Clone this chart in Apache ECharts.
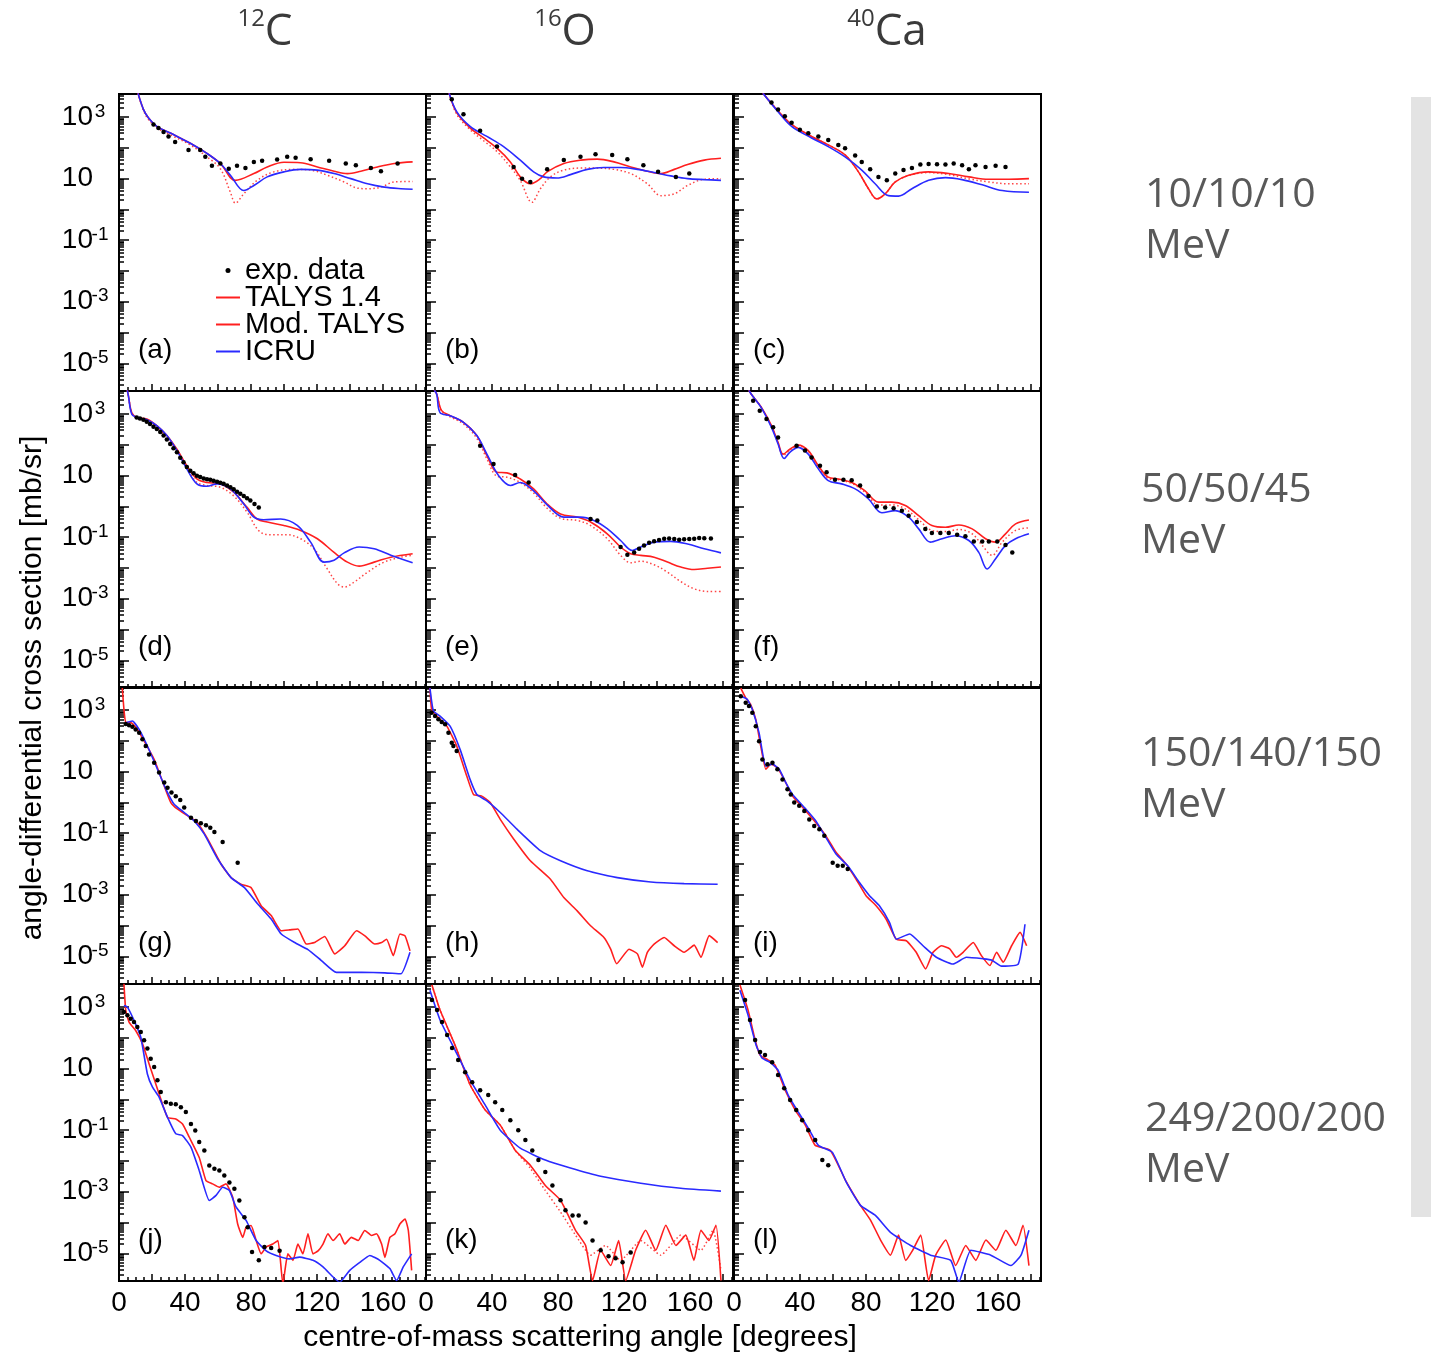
<!DOCTYPE html>
<html>
<head>
<meta charset="utf-8">
<script src="https://cdn.jsdelivr.net/npm/echarts@6/dist/echarts.min.js"></script>
<style>
  html, body { margin: 0; padding: 0; background: #fff; }
  #chart { width: 1431px; height: 1355px; }
</style>
</head>
<body>
<div id="chart"></div>
<script>
// Elastic angular distributions: [centre-of-mass angle (deg), dσ/dΩ (mb/sr)]

// ---- (a) 12C, 10 MeV ----
const expA = [[20.9,575],[23.9,445],[27,330],[30,235],[34,154],[42.1,86],[49.2,86],[52.3,51],[56.3,26],[61.4,31],[66.5,21],[71.5,26],[76.6,22],[81.7,35],[86.7,38],[95.8,42],[101.9,51],[107,48],[116.1,43],[127.3,38],[137.4,31],[143.5,27],[152.6,22],[158.7,17.4],[168.8,31]];
const talysA = [[11.5,6000],[14.8,1780],[17.8,950],[22.9,500],[33,270],[43.2,141],[53.3,66],[61.4,31],[70.5,8.8],[81.7,14.6],[89.8,24],[99.9,34],[110,33],[120.2,24],[130.3,17.4],[138.4,14.6],[146.5,17.4],[156.6,24],[166.8,31],[177.9,35]];
const modA = [[11.5,6000],[14.8,1650],[17.8,840],[22.9,450],[33,235],[43.2,125],[53.3,51],[61.4,21],[67.5,3.6],[70.5,1.6],[75.6,3.2],[83.7,8.8],[93.8,16.6],[106,20],[116.1,19],[126.2,12.9],[136.4,7.8],[144.5,4.9],[150.6,4.7],[158.7,5.3],[166.8,7.8],[177.9,8.1]];
const icruA = [[11.5,6000],[14.8,1780],[17.8,950],[22.9,500],[33,270],[43.2,141],[53.3,66],[61.4,31],[67.5,12.9],[75.6,4.1],[81.7,6.0],[89.8,11.4],[99.9,16.6],[110,20],[120.2,18.9],[130.3,14.6],[140.4,10],[150.6,6.8],[160.7,5.3],[170.8,4.7],[177.9,4.5]];

// ---- (b) 16O, 10 MeV ----
const expB = [[15.6,3800],[22.7,1230],[32.8,360],[43,110],[53.1,24],[58.2,10],[63.2,7.8],[73.4,20],[83.5,40],[93.6,51],[102.7,62],[112.8,59],[122,43],[131.7,27],[140.6,16.6],[151.4,11.4],[159.5,14.6]];
const talysB = [[14,6000],[18.6,1390],[26.7,445],[34.9,210],[43,98],[51.1,35],[57.1,11.4],[63.2,6.8],[69.3,10],[73.4,16.6],[83.5,31],[93.8,40],[103.8,43],[113.9,35],[124,24],[134.1,17.4],[142.3,14.6],[150.4,20],[158.5,29],[168.6,40],[178.7,46]];
const modB = [[14,6000],[18.6,1230],[26.7,390],[34.9,170],[43,76],[51.1,24],[57.1,8.8],[64.2,1.7],[69.3,4.7],[75.4,11.4],[83.5,19],[93.6,22],[103.8,22],[113.9,20],[124,14.6],[134.1,6.8],[142.3,2.8],[150.4,3.2],[158.5,6.0],[168.6,9.6],[178.7,10]];
const icruB = [[14,6000],[18.6,1500],[26.7,500],[36.9,235],[47,110],[57.1,40],[65.2,16.6],[71.3,11.4],[79.4,10.5],[87.5,13.5],[97.7,20],[107.8,23],[117.9,23],[128.1,20],[138.2,15.8],[148.3,12.3],[158.5,10],[168.6,9.3],[178.7,8.8]];

// ---- (c) 40Ca, 10 MeV ----
const expC = [[22.7,2950],[26.7,1780],[30.8,1070],[34.9,650],[39.9,390],[45,300],[51.1,235],[57.1,180],[63.2,125],[67.3,98],[73.4,56],[77.4,35],[82.5,20],[87.5,11.4],[92.6,8.8],[97.7,14.6],[102.7,19],[107.8,22],[112.9,29],[117.9,30],[123,29.5],[128.1,29],[133.1,31],[138.2,27],[142.3,20],[146.3,27],[152.4,24],[158.5,26],[164.5,24]];
const talysC = [[17.5,6000],[26.7,1580],[34.9,575],[47,235],[57.1,125],[67.3,59],[75.4,16.6],[81.5,4.7],[86.5,2.2],[91.6,3.2],[97.7,7.8],[105.8,12.9],[117.9,16.6],[130.1,14.6],[142.3,11.4],[154.4,9.6],[166.6,9.6],[178.7,10]];
const modC = [[17.5,6000],[26.7,1580],[34.9,575],[47,235],[57.1,125],[67.3,59],[75.4,16.6],[81.5,4.7],[86.5,2.2],[91.6,3.2],[97.7,7.8],[105.8,12.6],[117.9,15.8],[130.1,13.5],[142.3,9.8],[154.4,7.8],[166.6,6.8],[178.7,6.8]];
const icruC = [[17.5,6000],[26.7,1500],[34.9,500],[47,210],[57.1,110],[67.3,51],[77.4,19],[85.5,6.8],[93.6,2.8],[99.7,2.7],[107.8,4.7],[117.9,8.8],[128.1,10.8],[138.2,9.3],[150.4,6.3],[162.5,4.1],[178.7,3.6]];

// ---- (d) 12C, 50 MeV ----
const expD = [[10.7,780],[12.7,720],[14.8,660],[16.8,560],[18.8,475],[20.9,390],[22.9,325],[25,260],[27,200],[29,150],[31,107],[33,78],[35.1,57],[37.1,38],[39.1,27],[41.1,19],[43.2,14.5],[45.2,12],[47.2,10],[49.2,9],[51.3,8.1],[53.3,7.7],[55.3,7.4],[57.3,6.8],[59.4,6.3],[61.4,5.9],[63.4,5.4],[65.5,4.8],[67.5,4.2],[69.5,3.6],[71.5,3.0],[73.5,2.6],[75.6,2.2],[77.6,1.85],[79.6,1.55],[82.1,1.2],[84.7,0.93]];
const talysD = [[5,6000],[5.7,3900],[7.7,1120],[10.7,780],[16.8,690],[22.9,420],[29,200],[35.1,72],[41.1,21],[47.2,7.8],[53.3,6.0],[61.4,5.4],[69.5,2.9],[77.6,0.93],[83.7,0.39],[89.8,0.31],[99.9,0.24],[110,0.166],[120.2,0.089],[130.3,0.032],[138.4,0.0155],[145.5,0.0115],[154.6,0.0155],[164.7,0.0224],[177.9,0.029]];
const modD = [[5,6000],[5.7,3900],[7.7,1080],[10.7,740],[16.8,600],[22.9,370],[29,174],[35.1,65],[41.1,18.6],[47.2,6.0],[53.3,4.8],[61.4,4.2],[69.5,2.2],[77.6,0.65],[85.7,0.145],[93.8,0.12],[101.9,0.12],[110,0.089],[118.1,0.042],[126.2,0.0093],[132.3,0.0031],[136.4,0.0024],[142.5,0.0035],[150.6,0.0073],[160.7,0.0155],[170.8,0.0224],[177.9,0.026]];
const icruD = [[5,6000],[5.7,3900],[7.7,1000],[10.7,780],[16.8,660],[22.9,420],[29,200],[35.1,65],[41.1,16.6],[47.2,5.4],[53.3,4.5],[59.4,5.4],[67.5,3.7],[75.6,1.2],[81.7,0.45],[87.7,0.37],[97.9,0.39],[108,0.24],[116.1,0.069],[124.2,0.0155],[130.3,0.0178],[136.4,0.031],[145.5,0.048],[154.6,0.042],[164.7,0.026],[177.9,0.0148]];

// ---- (e) 16O, 50 MeV ----
const expE = [[32.8,93],[40.9,24],[54,10.5],[62.2,6.0],[99.7,0.39],[103.8,0.35],[117.9,0.048],[122,0.027],[126.1,0.032],[129.1,0.042],[132.1,0.054],[135.2,0.066],[138.2,0.074],[141.2,0.081],[144.3,0.089],[147.3,0.09],[150.4,0.088],[153.4,0.083],[156.4,0.085],[159.5,0.087],[162.5,0.089],[165.5,0.094],[168.6,0.093],[172.6,0.09]];
const talysE = [[5,6000],[6.5,4400],[9.5,1290],[14.6,890],[22.7,540],[30.8,200],[36.9,45],[43,12.9],[49,12.3],[57.1,7.8],[65.2,3.7],[73.4,1.2],[81.5,0.57],[91.6,0.45],[99.7,0.31],[109.8,0.129],[117.9,0.048],[124,0.029],[130.1,0.0257],[138.2,0.0224],[146.3,0.0155],[154.4,0.0107],[162.5,0.0089],[170.6,0.0098],[178.7,0.0107]];
const modE = [[5,6000],[6.5,4400],[9.5,1200],[14.6,820],[22.7,475],[30.8,163],[36.9,35],[43,9.6],[49,8.9],[57.1,6.0],[65.2,2.75],[73.4,0.87],[81.5,0.41],[91.6,0.35],[99.7,0.24],[109.8,0.089],[117.9,0.0257],[124,0.0148],[130.1,0.0165],[138.2,0.0127],[146.3,0.0073],[154.4,0.0036],[162.5,0.0021],[170.6,0.00173],[178.7,0.00173]];
const icruE = [[5,6000],[6.5,4400],[8.5,1120],[14.6,890],[22.7,540],[30.8,200],[36.9,50],[44,10],[51.1,4.8],[57.1,6.0],[65.2,3.2],[73.4,1.12],[83.5,0.45],[93.6,0.45],[101.7,0.35],[109.8,0.19],[117.9,0.078],[125,0.037],[130.1,0.048],[138.2,0.069],[148.3,0.073],[158.5,0.060],[168.6,0.042],[178.7,0.031]];

// ---- (f) 40Ca, 45 MeV ----
const expF = [[11.6,2700],[15.6,1290],[19.7,690],[23.7,370],[26.7,174],[37.9,93],[43,65],[47,39],[52.1,21],[56.1,12.9],[61.2,7.4],[66.3,7.4],[71.3,7.1],[76.4,4.8],[81.5,2.2],[86.5,1.0],[91.6,0.93],[96.7,0.87],[101.7,0.72],[105.8,0.50],[110.8,0.31],[115.9,0.186],[119.9,0.138],[125,0.138],[130.1,0.138],[135.2,0.12],[140.2,0.107],[145.3,0.072],[150.4,0.072],[154.4,0.072],[159.5,0.072],[164.5,0.056],[168.6,0.032]];
const talysF = [[9,6000],[10.5,4400],[16.6,1650],[22.7,420],[26.7,120],[29.8,50],[33.8,72],[38.9,98],[45,65],[51.1,21],[57.1,8.9],[63.2,7.8],[71.3,6.0],[79.4,3.2],[87.5,1.38],[95.6,1.38],[103.8,1.07],[111.9,0.50],[119.9,0.24],[128.1,0.21],[136.2,0.25],[144.3,0.186],[152.4,0.089],[158.5,0.069],[164.5,0.129],[170.6,0.27],[178.7,0.36]];
const modF = [[9,6000],[10.5,4400],[16.6,1620],[22.7,400],[26.7,112],[29.8,45],[33.8,68],[38.9,93],[45,60],[51.1,18.6],[57.1,8.1],[63.2,7.4],[71.3,5.6],[79.4,2.9],[87.5,1.12],[95.6,1.12],[103.8,0.83],[111.9,0.37],[119.9,0.166],[128.1,0.152],[136.2,0.178],[144.3,0.129],[150.4,0.054],[156.4,0.0257],[162.5,0.069],[170.6,0.166],[178.7,0.2]];
const icruF = [[9,6000],[10.5,4400],[16.6,1600],[22.7,370],[26.7,107],[30.4,36],[33.8,57],[38.9,83],[45,50],[51.1,16.6],[57.1,6.9],[65.2,5.4],[73.4,3.7],[81.5,1.74],[89.6,0.62],[97.7,0.73],[105.8,0.45],[111.9,0.186],[119,0.069],[126.1,0.089],[134.1,0.112],[142.3,0.078],[148.3,0.032],[153.4,0.0093],[158.5,0.02],[164.5,0.054],[170.6,0.089],[178.7,0.129]];

// ---- (g) 12C, 150 MeV ----
const expG = [[4.1,350],[6.1,320],[8.1,290],[10.1,235],[12.2,182],[14.2,112],[16.2,68],[18.2,36],[21.3,19.5],[24.3,9.3],[27.4,4.4],[29.4,3.0],[31.8,2.1],[34.4,1.6],[37.1,1.2],[39.5,0.68],[43.6,0.32],[46.6,0.25],[49.6,0.21],[52.7,0.18],[55.3,0.15],[57.8,0.11],[62.8,0.052],[71.9,0.011]];
const talysG = [[2,5200],[3,1050],[4.1,390],[7.1,390],[11.1,235],[15.2,100],[21.3,25],[27.4,3.4],[31.4,0.99],[35.5,0.60],[41.5,0.37],[47.6,0.22],[53.7,0.065],[61.8,0.010],[67.9,0.0036],[73.9,0.0022],[80,0.0017],[86.1,0.00044],[92.2,0.00021],[98.3,6.8e-5],[103.3,7.2e-5],[108.4,7.7e-5],[113.5,2.5e-5],[118.5,2.8e-5],[124.6,4.4e-5],[130.7,1.2e-5],[136.8,2.2e-5],[143.9,6.8e-5],[149,4.6e-5],[155,2.5e-5],[159.1,2.8e-5],[162.1,3.6e-5],[166.2,1.05e-5],[170.2,5.3e-5],[173.3,4.6e-5],[176.3,1.5e-5]];
const icruG = [[4.1,390],[8.1,440],[12.2,235],[17.2,68],[23.3,12],[28.4,2.7],[33.4,0.87],[39.5,0.47],[45.6,0.25],[51.7,0.093],[59.8,0.0145],[67.9,0.0036],[76,0.0017],[84.1,0.0005],[92.2,0.000162],[98.3,5.3e-5],[106.4,2.8e-5],[114.5,1.65e-5],[122.6,7.3e-6],[131.7,3.0e-6],[146.9,3.0e-6],[161.1,2.9e-6],[170.8,2.7e-6],[176.3,1.35e-5]];

// ---- (h) 16O, 140 MeV ----
const expH = [[3.4,820],[5.5,640],[7.5,500],[9.5,410],[11.6,345],[13.6,183],[15.6,87],[16.6,68],[18.6,47]];
const talysH = [[2.4,5200],[3.4,1050],[6.5,640],[12.6,300],[18.6,68],[24.7,7.2],[28.8,1.8],[33.8,1.6],[38.9,0.99],[45,0.28],[53.1,0.065],[63.2,0.0127],[75.4,0.0032],[83.5,0.00081],[91.6,0.0003],[99.7,9.8e-5],[107.8,4.1e-5],[111.9,1.7e-5],[115.5,5.7e-6],[123,1.7e-5],[128.1,1.2e-5],[131.1,4.4e-6],[134.1,1.35e-5],[138.2,2.5e-5],[144.3,4.1e-5],[150.4,2.2e-5],[156.4,1.35e-5],[162.5,2.3e-5],[166.6,9.3e-6],[171.6,4.7e-5],[176.7,2.8e-5]];
const icruH = [[2.4,5200],[4.5,930],[8.5,640],[14.6,300],[20.7,52],[26.7,5.6],[30.8,1.8],[36.9,1.12],[45,0.47],[55.1,0.135],[69.3,0.027],[81.5,0.0127],[97.7,0.006],[115.9,0.0036],[136.2,0.0026],[156.4,0.0023],[176.7,0.0022]];

// ---- (i) 40Ca, 150 MeV ----
const expI = [[4.1,2800],[7.1,1740],[9.1,1350],[11.1,820],[13.2,300],[15.2,98],[17.2,25],[20.3,17.5],[23.3,19.5],[26.3,12],[29.4,5.6],[32.4,2.7],[34.4,1.8],[36.5,0.99],[39.5,0.78],[42.6,0.53],[45.6,0.28],[48.6,0.17],[51.7,0.135],[54.7,0.082],[59.8,0.011],[62.8,0.0087],[65.9,0.0087],[68.9,0.0068]];
const talysI = [[4.1,5200],[7.1,2500],[10.1,1520],[13.2,500],[16.2,68],[19.3,12],[22.3,17.5],[26.3,13.5],[30.4,5.6],[35.5,1.6],[43.6,0.52],[49.6,0.22],[55.7,0.082],[61.8,0.024],[67.9,0.010],[74,0.0032],[80,0.00093],[86.1,0.00044],[92.2,0.00016],[98.3,3.6e-5],[104.4,3.2e-5],[110.4,1.35e-5],[116.1,3.9e-6],[120.6,1.35e-5],[125.6,2.2e-5],[130.7,1.75e-5],[134.7,9.3e-6],[138.8,1.35e-5],[144.9,2.8e-5],[149.9,1.05e-5],[155,5e-6],[159.1,1.35e-5],[163.1,6.4e-6],[168.2,2.2e-5],[173.3,6e-5],[177.3,2.2e-5]];
const icruI = [[4.1,2850],[8.1,2200],[11.1,1050],[15.2,182],[19.3,15],[23.3,17.5],[27.4,12],[31.4,4.4],[35.5,1.8],[43.6,0.60],[49.6,0.25],[55.7,0.072],[61.8,0.021],[68.9,0.0087],[76,0.0025],[82.1,0.00093],[88.1,0.00044],[94.2,0.000126],[98.3,3.6e-5],[106.4,5.3e-5],[114.5,2.2e-5],[122.6,9.3e-6],[132.7,5.6e-6],[140.8,9.3e-6],[151,8.3e-6],[156,7.6e-6],[162.1,4.8e-6],[172.2,5.6e-6],[176.3,1.1e-4]];

// ---- (j) 12C, 249 MeV ----
const expJ = [[3,690],[5.1,540],[7.1,420],[9.1,325],[11.1,224],[13.2,155],[15.2,83],[17.2,45],[19.2,21],[21.3,11.2],[23.3,4.2],[25.3,1.74],[28.4,0.81],[31.4,0.72],[34.4,0.69],[37.5,0.56],[40.5,0.39],[43.6,0.16],[46.2,0.098],[48.6,0.041],[51.7,0.022],[54.7,0.0071],[57.8,0.0056],[60.8,0.0049],[63.8,0.0034],[66.9,0.002],[69.9,0.00125],[72.9,0.00052],[76,0.000149],[78,7e-5],[80.6,1.1e-5],[84.7,5.9e-6],[88.1,1.6e-5],[92.2,1.5e-5],[97.3,1.2e-5]];
const talysJ = [[3,5700],[4.1,780],[6.1,325],[10.1,174],[14.2,65],[18.2,14.5],[24.3,1.5],[29.4,0.26],[34.4,0.23],[38.5,0.16],[42.6,0.059],[48.6,0.013],[52.7,0.0023],[56.7,0.0018],[60.8,0.0014],[64.8,0.0018],[68.9,0.00066],[71.9,9e-5],[75,3.3e-5],[77,7e-5],[80,8e-5],[83.1,2.6e-5],[86.1,9.6e-6],[89.2,1.6e-5],[93.2,2e-5],[96.3,2.6e-5],[99.3,1e-6],[102.3,9.6e-6],[105.4,5.9e-6],[108.4,2e-5],[111.4,9.6e-6],[114.5,4.3e-5],[117.5,9.6e-6],[120.6,1.2e-5],[123.6,2e-5],[126.6,4.3e-5],[129.7,2.6e-5],[133.7,4.3e-5],[136.8,2e-5],[140.8,3.3e-5],[144.9,2.6e-5],[148.9,5.5e-5],[153,3.8e-5],[156,4.3e-5],[159.1,2e-5],[161.1,7.4e-6],[164.1,3.3e-5],[167.2,4.3e-5],[170.2,9e-5],[173.3,1.3e-4],[175.3,5.5e-5],[177.3,2.8e-6]];
const icruJ = [[3,1130],[5.1,1000],[9.1,370],[13.2,105],[17.2,6.7],[20.3,2.5],[24.3,1.19],[29.4,0.26],[34.4,0.076],[38.5,0.067],[43.6,0.028],[48.6,0.0049],[54.7,0.00052],[58.8,0.00076],[62.8,0.0014],[66.9,0.0011],[70.9,0.00032],[77,0.000117],[83.1,2.6e-5],[89.2,1.2e-5],[95.2,8.5e-6],[103.3,6.6e-6],[109.4,7.5e-6],[117.5,5.9e-6],[123.6,3.6e-6],[129.7,1.7e-6],[133.7,1.15e-6],[139.8,2.8e-6],[145.9,5.1e-6],[152,8.5e-6],[158,5.9e-6],[164.1,3.2e-6],[168.2,1.3e-6],[172.2,3.6e-6],[177.3,9.6e-6]];

// ---- (k) 16O, 200 MeV ----
const expK = [[3.6,1700],[6.7,800],[9.7,325],[12.8,123],[15.8,47],[19.5,19],[23.7,7.7],[28,3.6],[32.8,2.0],[37.7,1.38],[41.9,0.81],[46.2,0.45],[51.1,0.21],[55.9,0.1],[60.2,0.048],[64.4,0.022],[68.1,0.0107],[72.3,0.0044],[76.6,0.0016],[81.5,0.00053],[84.5,0.00025],[88.8,0.00017],[92.5,0.00017],[96.7,0.0001],[100.9,2.6e-5],[105.8,1.25e-5],[110.6,8e-6],[114.9,6.9e-6],[119.1,5.1e-6],[124,1.07e-5]];
const talysK = [[3.6,5200],[8.5,800],[17.6,58],[26.7,3.0],[35.9,0.45],[45,0.146],[54.1,0.022],[63.2,0.0073],[72.3,0.0016],[81.5,0.00053],[90.6,5.6e-5],[96.7,1.8e-5],[100.9,1.3e-6],[105.8,1.25e-5],[111.9,4e-6],[116.7,2.6e-5],[121,1.3e-6],[127,1.25e-5],[133.1,5.6e-5],[139.2,1.25e-5],[145.3,8.2e-5],[151.4,1.8e-5],[157.4,3.9e-5],[162.3,5.9e-6],[166.6,5.6e-5],[171.4,2.6e-5],[175.7,8.2e-5],[178.7,1.3e-6]];
const modK = [[3.6,5200],[8.5,800],[17.6,58],[26.7,3.0],[35.9,0.45],[45,0.146],[54.1,0.022],[63.2,0.0058],[72.3,0.0011],[81.5,0.00022],[90.6,3.9e-5],[99.7,8.7e-6],[108.8,1.8e-5],[117.9,5.9e-6],[130.1,2.6e-5],[142.3,8.7e-6],[154.4,3.9e-5],[166.6,1.25e-5],[173.9,5.6e-5],[178.7,2.8e-6]];
const icruK = [[2.4,3500],[8.5,380],[17.6,40],[26.7,4.3],[35.9,0.65],[45,0.1],[57.1,0.026],[72.3,0.0107],[87.5,0.0059],[105.8,0.0032],[130.1,0.0019],[154.4,0.0013],[178.7,0.00105]];

// ---- (l) 40Ca, 200 MeV ----
const expL = [[6.7,1700],[9.7,380],[12.8,85],[15.8,35],[18.8,27.5],[23.1,16],[26.7,6.2],[30.4,2.3],[34,0.95],[37.7,0.45],[41.3,0.21],[45,0.1],[49.2,0.048],[53.5,0.0107],[57.1,0.0073]];
const talysL = [[3.6,5200],[8.5,800],[12.8,85],[15.8,27.5],[20.7,19],[24.9,13],[31,2.0],[37.1,0.45],[43.2,0.146],[49.2,0.032],[58.4,0.022],[67.5,0.0024],[76.6,0.00036],[82.7,0.00012],[88.8,2.7e-5],[94.8,8.7e-6],[99.7,3.9e-5],[104,5.9e-6],[108.2,1.25e-5],[113.1,3.9e-5],[117.9,1.3e-6],[122.2,8.7e-6],[128.3,2.7e-5],[134.3,4e-6],[140.4,1.8e-5],[146.5,5.9e-6],[152.6,2.7e-5],[158.7,1.25e-5],[164.7,5.6e-5],[170.8,1.8e-5],[175.1,8.2e-5],[178.7,4e-6]];
const icruL = [[3.6,3500],[8.5,550],[13.4,58],[17,22],[21.9,16],[26.7,8.9],[32.8,1.38],[38.9,0.39],[45,0.117],[51.1,0.032],[59.6,0.019],[68.1,0.002],[76.6,0.00036],[85.7,0.00017],[94.8,4.8e-5],[107,1.8e-5],[119.1,8.7e-6],[131.3,5.9e-6],[136.2,1.15e-6],[143.5,1.25e-5],[155.6,8.7e-6],[167.8,4e-6],[173.9,8.7e-6],[178.7,5.6e-5]];

// Panel labels, column / row headings and tick labels
const panelTags = ['(a)','(b)','(c)','(d)','(e)','(f)','(g)','(h)','(i)','(j)','(k)','(l)'];
const nuclei = [['12','C'], ['16','O'], ['40','Ca']];
const energies = ['10/10/10', '50/50/45', '150/140/150', '249/200/200'];
const angleLabels = [0, 40, 80, 120, 160];
const sigmaLabels = [1e-5, 1e-3, 1e-1, 10, 1e3];
const seriesNames = ['exp. data', 'TALYS 1.4', 'Mod. TALYS', 'ICRU'];

const panels = [
  { exp: expA, talys: talysA, mod: modA, icru: icruA },
  { exp: expB, talys: talysB, mod: modB, icru: icruB },
  { exp: expC, talys: talysC, mod: modC, icru: icruC },
  { exp: expD, talys: talysD, mod: modD, icru: icruD },
  { exp: expE, talys: talysE, mod: modE, icru: icruE },
  { exp: expF, talys: talysF, mod: modF, icru: icruF },
  { exp: expG, talys: talysG, mod: null, icru: icruG },
  { exp: expH, talys: talysH, mod: null, icru: icruH },
  { exp: expI, talys: talysI, mod: null, icru: icruI },
  { exp: expJ, talys: talysJ, mod: null, icru: icruJ },
  { exp: expK, talys: talysK, mod: modK, icru: icruK },
  { exp: expL, talys: talysL, mod: null, icru: icruL }
];

// ---- layout ----
const FONT = '"Liberation Sans", Arial, Helvetica, sans-serif';
const HEAD_FONT = '"Open Sans", "Noto Sans", sans-serif';
const COL_LEFT = [119, 426, 734];
const ROW_TOP = [94, 391, 687, 984];
const PANEL_W = 307, PANEL_H = 297;
const ANGLE_MAX = 186;
const SIGMA_MIN = Math.pow(10, -5.9);
const SIGMA_MAX = Math.pow(10, 3.75);

const RED = '#ff1f1f', BLUE = '#2a2aff';

// tick positions
const angleMajor = [], angleMinor = [];
for (let a = 0; a <= 185; a += 5) (a % 20 === 0 ? angleMajor : angleMinor).push(a);
const sigmaMajor = [], sigmaMinor = [];
for (let e = -6; e <= 3; e++) {
  const d = Math.pow(10, e);
  if (d >= SIGMA_MIN) sigmaMajor.push(d);
  for (let m = 2; m <= 9; m++) {
    const v = m * d;
    if (v >= SIGMA_MIN && v <= SIGMA_MAX) sigmaMinor.push(v);
  }
}

function sigmaLabel(v) {
  const e = Math.round(Math.log10(v));
  return e === 1 ? '{b|10}{s| }' : '{b|10}{s|' + e + '}';
}

const grid = [], xAxis = [], yAxis = [], series = [], graphic = [];
const tickLine = { color: '#000', width: 1.5 };

panels.forEach((p, i) => {
  const r = Math.floor(i / 3), c = i % 3;
  grid.push({
    left: COL_LEFT[c], top: ROW_TOP[r], width: PANEL_W, height: PANEL_H,
    show: true, borderColor: '#000', borderWidth: 2, backgroundColor: 'transparent'
  });
  // angle axis: major ticks + labels, then minor ticks
  xAxis.push({
    gridIndex: i, type: 'value', min: 0, max: ANGLE_MAX, position: 'bottom',
    axisLine: { show: false }, splitLine: { show: false },
    axisTick: { show: true, inside: true, length: 7, customValues: angleMajor, lineStyle: tickLine },
    axisLabel: { show: r === 3, customValues: angleLabels, margin: 8, fontFamily: FONT, fontSize: 28, color: '#000' }
  });
  xAxis.push({
    gridIndex: i, type: 'value', min: 0, max: ANGLE_MAX, position: 'bottom',
    axisLine: { show: false }, splitLine: { show: false },
    axisTick: { show: true, inside: true, length: 4, customValues: angleMinor, lineStyle: tickLine },
    axisLabel: { show: false }
  });
  // cross-section axis (log): decades + labels, then 2..9 minor ticks
  yAxis.push({
    gridIndex: i, type: 'log', logBase: 10, min: SIGMA_MIN, max: SIGMA_MAX, position: 'left',
    axisLine: { show: false }, splitLine: { show: false }, minorTick: { show: false },
    axisTick: { show: true, inside: true, length: 10, customValues: sigmaMajor, lineStyle: tickLine },
    axisLabel: {
      show: c === 0, customValues: sigmaLabels, margin: 12, formatter: sigmaLabel,
      rich: {
        b: { fontFamily: FONT, fontSize: 28, color: '#000', lineHeight: 30 },
        s: { fontFamily: FONT, fontSize: 19, color: '#000', width: 14, align: 'left', lineHeight: 16, verticalAlign: 'top' }
      }
    }
  });
  yAxis.push({
    gridIndex: i, type: 'log', logBase: 10, min: SIGMA_MIN, max: SIGMA_MAX, position: 'left',
    axisLine: { show: false }, splitLine: { show: false }, minorTick: { show: false },
    axisTick: { show: true, inside: true, length: 5, customValues: sigmaMinor, lineStyle: tickLine },
    axisLabel: { show: false }
  });

  const common = { xAxisIndex: 2 * i, yAxisIndex: 2 * i, animation: false, silent: true, clip: true };
  const smooth = r < 2 ? 0.35 : 0.15;
  if (p.mod) series.push(Object.assign({
    type: 'line', name: seriesNames[2], data: p.mod, symbol: 'none', smooth: smooth,
    lineStyle: { color: '#ff4444', width: 1.5, type: [1.5, 2.5] }, itemStyle: { color: '#ff4444' }, z: 2
  }, common));
  series.push(Object.assign({
    type: 'line', name: seriesNames[1], data: p.talys, symbol: 'none', smooth: smooth,
    lineStyle: { color: RED, width: 1.6 }, itemStyle: { color: RED }, z: 3
  }, common));
  series.push(Object.assign({
    type: 'line', name: seriesNames[3], data: p.icru, symbol: 'none', smooth: smooth,
    lineStyle: { color: BLUE, width: 1.6 }, itemStyle: { color: BLUE }, z: 4
  }, common));
  series.push(Object.assign({
    type: 'scatter', name: seriesNames[0], data: p.exp, symbol: 'circle', symbolSize: 4.5,
    itemStyle: { color: '#000', opacity: 1 }, z: 5
  }, common));

  graphic.push({
    type: 'text', x: COL_LEFT[c] + 19, y: ROW_TOP[r] + 256, z: 10,
    style: { text: panelTags[i], fontFamily: FONT, fontSize: 28, fill: '#000', align: 'left', verticalAlign: 'middle' }
  });
});

// column headings (nuclei)
const headX = [265, 565, 887];
nuclei.forEach((n, c) => {
  graphic.push({
    type: 'text', x: headX[c], y: 32,
    style: {
      text: '{s|' + n[0] + '}{m|' + n[1] + '}', align: 'center', verticalAlign: 'middle', fill: '#3a3a3a',
      rich: {
        s: { fontFamily: HEAD_FONT, fontSize: 24, fill: '#3a3a3a', lineHeight: 20, verticalAlign: 'top' },
        m: { fontFamily: HEAD_FONT, fontSize: 44, fill: '#3a3a3a', lineHeight: 50 }
      }
    }
  });
});

// row headings (beam energies)
const energyPos = [[1145, 221], [1141, 516], [1141, 780], [1145, 1145]];
energies.forEach((e, r) => {
  graphic.push({
    type: 'text', x: energyPos[r][0], y: energyPos[r][1],
    style: {
      text: e + '\nMeV', fontFamily: HEAD_FONT, fontSize: 41, lineHeight: 51,
      fill: '#595959', align: 'left', verticalAlign: 'middle'
    }
  });
});

// side bar
graphic.push({ type: 'rect', shape: { x: 1411, y: 97, width: 20, height: 1120 }, style: { fill: '#e3e3e3' } });

// axis titles
graphic.push({
  type: 'text', x: 580, y: 1338,
  style: { text: 'centre-of-mass scattering angle [degrees]', fontFamily: FONT, fontSize: 30, fill: '#000', align: 'center', verticalAlign: 'middle' }
});
graphic.push({
  type: 'text', x: 33, y: 688, rotation: Math.PI / 2,
  style: { text: 'angle-differential cross section [mb/sr]', fontFamily: FONT, fontSize: 30, fill: '#000', align: 'center', verticalAlign: 'middle' }
});

const chart = echarts.init(document.getElementById('chart'), null, { renderer: 'canvas' });
chart.setOption({
  animation: false,
  backgroundColor: '#fff',
  grid, xAxis, yAxis, series, graphic,
  legend: {
    orient: 'vertical', left: 210, top: 251, itemWidth: 24, itemHeight: 5, itemGap: -2,
    selectedMode: false,
    textStyle: { fontFamily: FONT, fontSize: 29, color: '#000' },
    data: [
      { name: seriesNames[0], icon: 'circle' },
      { name: seriesNames[1], itemStyle: { opacity: 0 } },
      { name: seriesNames[2], itemStyle: { opacity: 0 }, lineStyle: { type: 'solid', color: RED } },
      { name: seriesNames[3], itemStyle: { opacity: 0 } }
    ]
  }
});
</script>
</body>
</html>
